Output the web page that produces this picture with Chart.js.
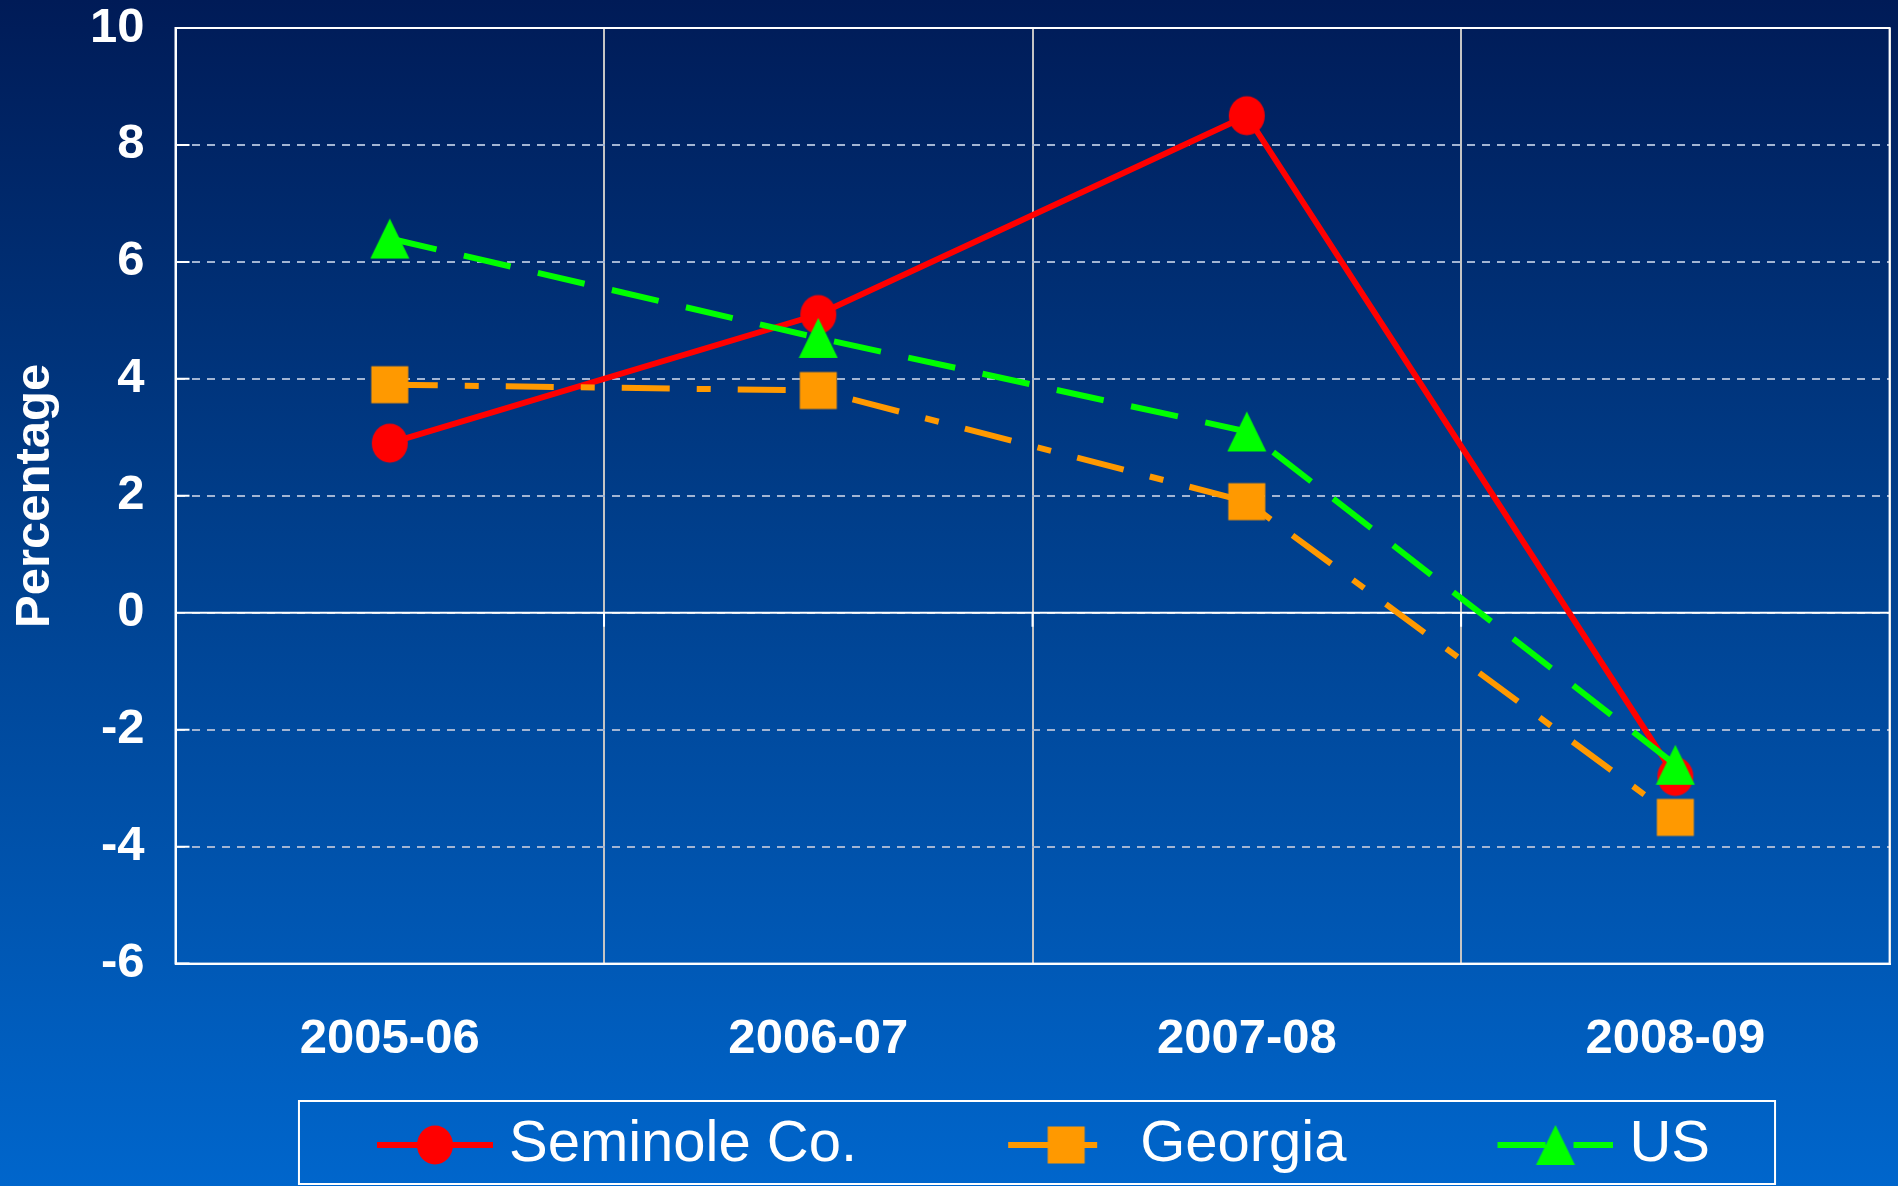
<!DOCTYPE html>
<html>
<head>
<meta charset="utf-8">
<script src="https://cdn.jsdelivr.net/npm/chart.js@4/dist/chart.umd.min.js"></script>
<style>
  html, body { margin: 0; padding: 0; }
  body { width: 1898px; height: 1186px; overflow: hidden;
         background: linear-gradient(to bottom, #001b57 0%, #003f8c 45%, #0066cc 100%); }
  #wrap { position: relative; width: 1898px; height: 1186px; }
</style>
</head>
<body>
<div id="wrap"><canvas id="c" width="1898" height="1186"></canvas></div>
<script>
// ---- data ----
const categories = ['2005-06', '2006-07', '2007-08', '2008-09'];
const seriesNames = ['Seminole Co.', 'Georgia', 'US'];
const seminole = [2.9, 5.1, 8.5, -2.8];
const georgia = [3.9, 3.8, 1.9, -3.5];
const us = [6.4, 4.7, 3.1, -2.6];
const yMin = -6, yMax = 10, yStep = 2;

// ---- styles ----
const RED = '#ff0000', ORANGE = '#ff9900', GREEN = '#00ff00';
const FONT = "'Liberation Sans', Arial, sans-serif";
const DASH_GA = [48, 27, 14, 27];
const DASH_US = [48, 28];
const LINE_W = 6;

function makeCanvas(w, h) { const c = document.createElement('canvas'); c.width = w; c.height = h; return c; }
function drawMarker(ctx, kind, cx, cy, color) {
  ctx.fillStyle = color;
  ctx.beginPath();
  if (kind === 'circle') { ctx.ellipse(cx, cy, 18, 19.5, 0, 0, Math.PI * 2); }
  else if (kind === 'square') { ctx.rect(cx - 18.5, cy - 18.5, 37, 37); }
  else { ctx.moveTo(cx, cy - 20); ctx.lineTo(cx + 19.5, cy + 20); ctx.lineTo(cx - 19.5, cy + 20); ctx.closePath(); }
  ctx.fill();
}
function markerImage(kind, color) {
  const c = makeCanvas(40, 42);
  drawMarker(c.getContext('2d'), kind, 20, 21, color);
  return c;
}
function legendImage(kind, color, dash) {
  const w = 270, h = 44, cx = 212, cy = 22;
  const c = makeCanvas(w, h), ctx = c.getContext('2d');
  ctx.strokeStyle = color; ctx.lineWidth = LINE_W; ctx.setLineDash(dash);
  ctx.beginPath(); ctx.moveTo(cx - 58, cy); ctx.lineTo(cx + 58, cy); ctx.stroke();
  ctx.setLineDash([]);
  drawMarker(ctx, kind, cx, cy, color);
  return c;
}

const styles = [
  { kind: 'circle', color: RED, dash: [] },
  { kind: 'square', color: ORANGE, dash: DASH_GA },
  { kind: 'triangle', color: GREEN, dash: DASH_US }
];
const seriesData = [seminole, georgia, us];

const datasets = seriesData.map((d, i) => ({
  label: seriesNames[i],
  data: d,
  borderColor: styles[i].color,
  backgroundColor: styles[i].color,
  borderWidth: LINE_W,
  borderDash: styles[i].dash,
  pointStyle: markerImage(styles[i].kind, styles[i].color),
  pointRadius: 19,
  pointHoverRadius: 19,
  tension: 0,
  fill: false,
  clip: false,
  order: 3 - i
}));
const legendImgs = styles.map(s => legendImage(s.kind, s.color, s.dash));

const framePlugin = {
  id: 'frame',
  beforeDatasetsDraw(chart) {
    const { ctx, chartArea: a, scales: { x, y } } = chart;
    ctx.save();
    ctx.strokeStyle = '#ffffff';
    ctx.lineWidth = 2;
    ctx.setLineDash([]);
    const y0 = y.getPixelForValue(0);
    ctx.beginPath();
    ctx.moveTo(a.left, y0); ctx.lineTo(a.right, y0);
    y.ticks.forEach((t, i) => {
      const py = y.getPixelForTick(i);
      ctx.moveTo(a.left, py); ctx.lineTo(a.left + 14, py);
    });
    for (let i = 1; i < x.ticks.length; i++) {
      const px = (x.getPixelForTick(i - 1) + x.getPixelForTick(i)) / 2;
      ctx.moveTo(px, y0); ctx.lineTo(px, y0 + 14);
    }
    ctx.stroke();
    ctx.strokeRect(a.left, a.top, a.width, a.height);
    ctx.restore();
  },
  afterDraw(chart) {
    const lg = chart.legend;
    if (!lg || !lg.legendHitBoxes || !lg.legendHitBoxes.length) return;
    const hb = lg.legendHitBoxes;
    const first = hb[0], last = hb[hb.length - 1];
    const ctx = chart.ctx;
    ctx.save();
    ctx.strokeStyle = '#ffffff';
    ctx.lineWidth = 2;
    const l = first.left + 63, r = last.left + last.width + 65;
    ctx.strokeRect(l, lg.top - 5, r - l, lg.bottom - lg.top + 5);
    ctx.restore();
  }
};

new Chart(document.getElementById('c'), {
  type: 'line',
  data: { labels: categories, datasets },
  options: {
    responsive: false,
    devicePixelRatio: 1,
    animation: false,
    events: [],
    layout: { autoPadding: false, padding: { left: 56.4, right: 8.4, top: 28, bottom: 2 } },
    plugins: {
      tooltip: { enabled: false },
      legend: {
        position: 'bottom',
        fullSize: true,
        align: 'center',
        labels: {
          usePointStyle: true,
          pointStyleWidth: 244,
          padding: 10,
          color: '#ffffff',
          font: { family: FONT, size: 58, weight: 'normal' },
          sort: (a, b) => a.datasetIndex - b.datasetIndex,
          generateLabels: (chart) => seriesNames.map((name, i) => ({
            text: name,
            fillStyle: styles[i].color,
            strokeStyle: styles[i].color,
            fontColor: '#ffffff',
            lineWidth: 0,
            hidden: false,
            pointStyle: legendImgs[i],
            datasetIndex: i
          }))
        }
      }
    },
    scales: {
      x: {
        type: 'category',
        offset: true,
        grid: { offset: true, color: '#c4c4c4', lineWidth: 2, drawTicks: true,
                tickLength: 46, tickColor: 'rgba(0,0,0,0)' },
        border: { display: true, color: '#ffffff', width: 2 },
        ticks: { color: '#ffffff', padding: 0, maxRotation: 0, autoSkip: false,
                 font: { family: FONT, size: 49, weight: 'bold' } },
        afterFit: (s) => { s.height = 142.4; s.paddingLeft = 0; s.paddingRight = 0; }
      },
      y: {
        min: yMin, max: yMax,
        grid: { color: '#a3b5d3', lineWidth: 2, drawTicks: true,
                tickLength: 31, tickColor: 'rgba(0,0,0,0)' },
        border: { display: true, color: '#ffffff', width: 2, dash: [8, 7] },
        ticks: { stepSize: yStep, color: '#ffffff', padding: 0,
                 font: { family: FONT, size: 49, weight: 'bold', lineHeight: 1 } },
        title: { display: true, text: 'Percentage', color: '#ffffff',
                 padding: { top: -50.8, bottom: 0 },
                 font: { family: FONT, size: 49, weight: 'bold' } },
        afterFit: (s) => { s.width = 119.1; }
      }
    }
  },
  plugins: [framePlugin]
});
</script>
</body>
</html>
